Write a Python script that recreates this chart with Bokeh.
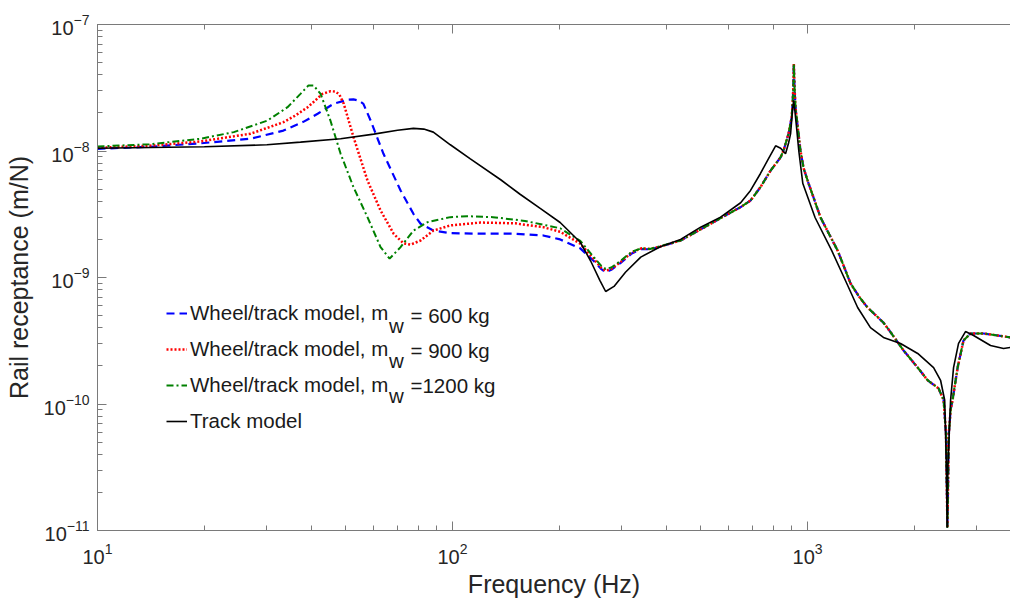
from bokeh.plotting import figure
from bokeh.models import (LogAxis, LogTicker, Legend, LegendItem, Label, Range1d,
                          CustomJSTickFormatter)
from bokeh.embed import file_html
from bokeh.resources import INLINE

# ---------------- data ----------------
# Wheel/track model, m_w = 600 kg  (low/mid frequency part)
freq_600 = [10, 14, 19.5, 27, 33.4, 38, 41.7, 46.2, 50.6, 52.6, 54.5, 56.1, 58.8, 63.9,
            71.4, 77.6, 81.3, 88.3, 98.6, 120, 150, 180, 201, 229, 250, 262, 270, 280,
            297, 320, 340, 360, 385]
rec_600 = [1.04e-8, 1.08e-8, 1.15e-8, 1.25e-8, 1.45e-8, 1.7e-8, 1.97e-8, 2.36e-8, 2.54e-8,
           2.56e-8, 2.5e-8, 2.36e-8, 1.74e-8, 9.5e-9, 4.88e-9, 3.19e-9, 2.66e-9, 2.35e-9,
           2.24e-9, 2.22e-9, 2.22e-9, 2.15e-9, 2.0e-9, 1.7e-9, 1.35e-9, 1.17e-9, 1.10e-9,
           1.15e-9, 1.3e-9, 1.55e-9, 1.68e-9, 1.67e-9, 1.75e-9]

# Wheel/track model, m_w = 900 kg
freq_900 = [10, 14, 19.5, 27, 33.4, 36, 39.1, 41, 43, 45.3, 46.8, 48, 49.4, 52.6, 57.6,
            62.7, 68.3, 72.8, 76.2, 81.3, 88.3, 98.6, 120, 150, 180, 201, 229, 250, 262,
            270, 280, 297, 320, 340, 360, 385]
rec_900 = [1.06e-8, 1.1e-8, 1.19e-8, 1.37e-8, 1.69e-8, 1.9e-8, 2.22e-8, 2.5e-8, 2.83e-8,
           2.97e-8, 2.95e-8, 2.8e-8, 2.36e-8, 1.29e-8, 5.85e-9, 3.39e-9, 2.21e-9, 1.86e-9,
           1.82e-9, 1.96e-9, 2.35e-9, 2.58e-9, 2.72e-9, 2.68e-9, 2.5e-9, 2.3e-9, 1.85e-9,
           1.4e-9, 1.2e-9, 1.13e-9, 1.17e-9, 1.32e-9, 1.58e-9, 1.7e-9, 1.68e-9, 1.76e-9]

# Wheel/track model, m_w = 1200 kg
freq_1200 = [10, 14, 19.5, 24.2, 30.1, 34.3, 37.3, 39.3, 40.6, 42.5, 45.3, 48.4, 52.6,
             57.6, 62.7, 66.5, 71.4, 77.6, 85.1, 98.6, 110, 130, 160, 201, 229, 250, 262,
             270, 280, 297, 320, 340, 360, 385]
rec_1200 = [1.085e-8, 1.13e-8, 1.25e-8, 1.41e-8, 1.74e-8, 2.22e-8, 2.83e-8, 3.3e-8,
            3.3e-8, 2.83e-8, 1.74e-8, 9.5e-9, 5.18e-9, 3.0e-9, 1.74e-9, 1.41e-9, 1.74e-9,
            2.35e-9, 2.74e-9, 3.0e-9, 3.05e-9, 3.0e-9, 2.8e-9, 2.45e-9, 1.95e-9, 1.45e-9,
            1.24e-9, 1.17e-9, 1.2e-9, 1.35e-9, 1.6e-9, 1.7e-9, 1.68e-9, 1.77e-9]

# high-frequency part, common to the three wheel/track curves
freq_hf = [439, 500, 569, 648, 691, 737, 787, 840, 856, 884, 902, 908, 912, 915, 919,
           925, 937, 955, 975, 1007, 1088, 1216, 1322, 1400, 1475, 1560, 1636, 1713,
           1864, 2043, 2180, 2339, 2418, 2455, 2478, 2500, 2530, 2561, 2647, 2750, 2878,
           3133, 3428, 3730]
rec_hf = [1.96e-9, 2.4e-9, 2.95e-9, 3.6e-9, 4.06e-9, 5.18e-9, 7.0e-9, 8.93e-9, 1.01e-8,
          1.37e-8, 1.84e-8, 2.4e-8, 3.2e-8, 4.92e-8, 3.2e-8, 2.21e-8, 1.6e-8, 1.01e-8,
          7.3e-9, 5.53e-9, 2.98e-9, 1.63e-9, 8.97e-10, 7.0e-10, 5.8e-10, 5.0e-10, 4.4e-10,
          3.7e-10, 2.65e-10, 1.94e-10, 1.54e-10, 1.33e-10, 1.07e-10, 5.85e-11, 1.05e-11,
          5.85e-11, 9.0e-11, 1.07e-10, 1.94e-10, 3.18e-10, 3.61e-10, 3.61e-10, 3.48e-10,
          3.36e-10]

# Track model
freq_track = [10, 20, 30, 37.3, 48.4, 60, 70, 77.6, 83, 88.3, 98.6, 112, 137, 155, 177,
              201, 229, 245, 260, 270, 285, 307, 339, 385, 439, 500, 569, 648, 691, 737,
              771, 813, 840, 867, 884, 896, 907, 914, 921, 932, 945, 970, 1050, 1170,
              1290, 1384, 1504, 1636, 1828, 2043, 2265, 2370, 2434, 2462, 2473, 2485,
              2529, 2578, 2663, 2786, 2936, 3277, 3565, 3730]
rec_track = [1.05e-8, 1.08e-8, 1.12e-8, 1.175e-8, 1.25e-8, 1.36e-8, 1.46e-8, 1.51e-8,
             1.49e-8, 1.41e-8, 1.12e-8, 8.7e-9, 5.9e-9, 4.55e-9, 3.5e-9, 2.72e-9, 1.9e-9,
             1.35e-9, 9.5e-10, 7.75e-10, 8.5e-10, 1.1e-9, 1.45e-9, 1.75e-9, 2.0e-9, 2.5e-9,
             3.0e-9, 3.9e-9, 4.88e-9, 6.64e-9, 8.4e-9, 1.10e-8, 1.05e-8, 9.5e-9, 1.15e-8,
             1.37e-8, 2.09e-8, 2.51e-8, 2.09e-8, 1.5e-8, 1.0e-8, 5.53e-9, 2.98e-9, 1.63e-9,
             8.97e-10, 5.79e-10, 4.02e-10, 3.36e-10, 3.01e-10, 2.51e-10, 1.94e-10,
             1.54e-10, 1.07e-10, 3.15e-11, 1.05e-11, 3.15e-11, 1.07e-10, 1.94e-10,
             3.01e-10, 3.74e-10, 3.48e-10, 2.90e-10, 2.75e-10, 2.80e-10]

legend_main = ["Wheel/track model, m", "Wheel/track model, m", "Wheel/track model, m",
               "Track model"]
legend_sub = ["w", "w", "w"]
legend_rest = ["= 600 kg", "= 900 kg", "=1200 kg"]

x_title = "Frequency (Hz)"
y_title = "Rail receptance (m/N)"

X_RANGE = (10, 3730)
Y_RANGE = (1e-11, 1e-7)

# ---------------- styling ----------------
AX = "#7a7a7a"
TXT = "#262626"
FONT = "Liberation Sans"

p = figure(width=1010, height=606, x_axis_type="log", y_axis_type="log",
           x_range=Range1d(*X_RANGE), y_range=Range1d(*Y_RANGE),
           output_backend="svg", toolbar_location=None,
           min_border_left=97, min_border_right=0, min_border_top=24,
           min_border_bottom=76)
p.outline_line_color = None
p.xgrid.visible = False
p.ygrid.visible = False
p.background_fill_color = "white"
p.border_fill_color = "white"

bottom = p.below[0]
left = p.left[0]
top = LogAxis(ticker=LogTicker(), formatter=CustomJSTickFormatter(code="return ''"))
p.add_layout(top, "above")

for ax in (bottom, left, top):
    ax.axis_line_color = AX
    ax.axis_line_width = 1
    ax.major_tick_line_color = AX
    ax.minor_tick_line_color = AX
    ax.major_tick_in = 9
    ax.major_tick_out = 0
    ax.minor_tick_in = 5
    ax.minor_tick_out = 0
    ax.major_label_text_font = FONT
    ax.major_label_text_font_size = "20px"
    ax.major_label_text_color = TXT
    ax.axis_label_text_font = FONT
    ax.axis_label_text_font_style = "normal"
    ax.axis_label_text_color = TXT
    ax.axis_label_text_font_size = "25px"
top.major_label_standoff = 0

bottom.axis_label = x_title
bottom.major_label_standoff = 12
bottom.axis_label_standoff = 3
left.axis_label = y_title
left.major_label_standoff = 8
left.axis_label_standoff = 8

r600 = p.line(freq_600 + freq_hf, rec_600 + rec_hf, line_color="#0000FF",
              line_width=2.2, line_dash="8 5")
r900 = p.line(freq_900 + freq_hf, rec_900 + rec_hf, line_color="#FF0000",
              line_width=2.5, line_dash="2 2")
r1200 = p.line(freq_1200 + freq_hf, rec_1200 + rec_hf, line_color="#008000",
               line_width=2.0, line_dash="7 3 2 3")
rtrack = p.line(freq_track, rec_track, line_color="#000000", line_width=1.6)

renderers = [r600, r900, r1200, rtrack]
LEG_FS = "20.5px"
legend = Legend(items=[LegendItem(label=t, renderers=[r]) for t, r in zip(legend_main, renderers)],
                location=(69, 97), orientation="vertical",
                label_text_font=FONT, label_text_font_size=LEG_FS, label_text_color="#1a1a1a",
                glyph_width=21, glyph_height=20, label_height=20, label_standoff=3,
                spacing=12, padding=0, margin=0, border_line_color=None,
                background_fill_alpha=0)
p.add_layout(legend)

# subscript "w" and the rest of the first three legend entries
row_y = [215, 180, 145]
for i in range(3):
    p.add_layout(Label(x=291.5, y=row_y[i] - 10, x_units="screen", y_units="screen",
                       text=legend_sub[i], text_font=FONT, text_font_size=LEG_FS,
                       text_color="#1a1a1a", text_baseline="middle"))
    p.add_layout(Label(x=313, y=row_y[i], x_units="screen", y_units="screen",
                       text=legend_rest[i], text_font=FONT, text_font_size=LEG_FS,
                       text_color="#1a1a1a", text_baseline="middle"))

open("out.html", "w").write(file_html(p, INLINE))
